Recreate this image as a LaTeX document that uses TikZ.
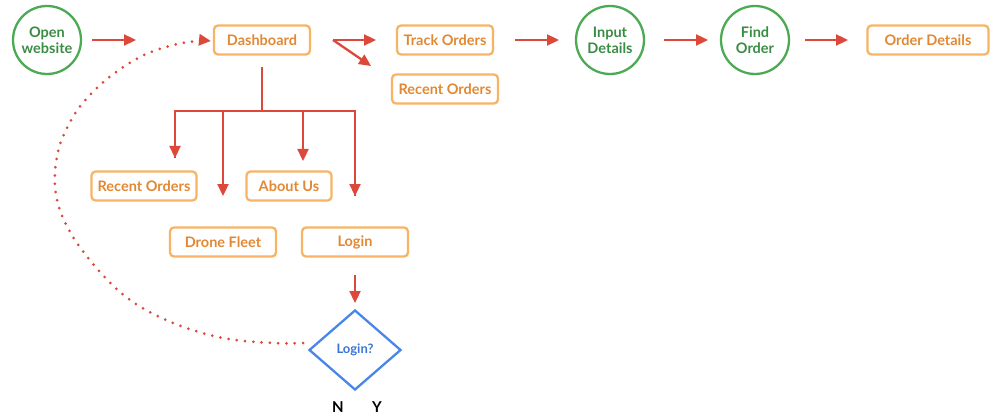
\documentclass[tikz,border=0pt]{standalone}
\usepackage{fontspec}
\setmainfont{Lato}
\usetikzlibrary{arrows.meta,shapes.geometric}
\definecolor{cgreen}{RGB}{76,170,84}
\definecolor{tgreen}{RGB}{58,140,68}
\definecolor{corange}{RGB}{246,180,100}
\definecolor{torange}{RGB}{226,136,50}
\definecolor{cred}{RGB}{220,72,58}
\definecolor{cblue}{RGB}{74,134,232}
\definecolor{tblue}{RGB}{58,116,214}
\tikzset{
  circ/.style={circle,draw=cgreen,line width=2.3pt,minimum size=68pt,inner sep=0pt,align=center,text=tgreen,font=\fontsize{14.5}{16}\selectfont\bfseries},
  box/.style={rectangle,rounded corners=4pt,draw=corange,line width=2.3pt,minimum height=29pt,inner sep=0pt,text=torange,font=\fontsize{14.5}{16}\selectfont\bfseries},
  arr/.style={draw=cred,line width=2.3pt,-{Triangle[length=12pt,width=11pt]}},
  ln/.style={draw=cred,line width=2.3pt},
  dotline/.style={draw=cred,line width=3pt,line cap=round,dash pattern=on 0pt off 8.3pt,-{Triangle[length=12pt,width=11pt]}},
  dia/.style={diamond,draw=cblue,line width=2.3pt,minimum width=92pt,minimum height=80pt,inner sep=0pt,text=tblue,font=\fontsize{13}{15}\selectfont\bfseries},
  yn/.style={text=black,font=\fontsize{15}{17}\selectfont\bfseries}
}
\begin{document}
\begin{tikzpicture}[x=1pt,y=-1pt]
\useasboundingbox (0,0) rectangle (993,417);
% nodes
\node[circ] (open) at (47,40) {Open\\website};
\node[box,minimum width=96pt] (dash) at (262,40) {Dashboard};
\node[box,minimum width=96pt] (track) at (445,40) {Track Orders};
\node[box,minimum width=106pt] (recent1) at (445,89) {Recent Orders};
\node[circ] (input) at (610,40) {Input\\Details};
\node[circ] (find) at (755,40) {Find\\Order};
\node[box,minimum width=121pt] (odet) at (928,40) {Order Details};
\node[box,minimum width=105pt] (recent2) at (144,186) {Recent Orders};
\node[box,minimum width=85pt] (about) at (289,186) {About Us};
\node[box,minimum width=106pt] (drone) at (223,242) {Drone Fleet};
\node[box,minimum width=106pt] (login) at (355,242) {Login};
\node[dia] (q) at (355,350) {Login?};
\node[yn] (n) at (338,407) {N};
\node[yn] (y) at (377,407) {Y};
% coordinates for free arrow ends
\coordinate (a1s) at (92,40);   \coordinate (a1e) at (136,40);
\coordinate (a2s) at (333,40);  \coordinate (a2e) at (376,40);
\coordinate (a3e) at (371,66);
\coordinate (a4s) at (515,40);  \coordinate (a4e) at (559,40);
\coordinate (a5s) at (664,40);  \coordinate (a5e) at (708,40);
\coordinate (a6s) at (805,40);  \coordinate (a6e) at (848,40);
\coordinate (t0) at (262,67);   \coordinate (t1) at (262,111);
\coordinate (hl) at (175,111);  \coordinate (hr) at (355,111);
\coordinate (d1) at (175,158);
\coordinate (h2) at (223,111);  \coordinate (d2) at (223,196);
\coordinate (h3) at (303,111);  \coordinate (d3) at (303,161);
\coordinate (d4) at (355,196);
\coordinate (l0) at (355,275);  \coordinate (l1) at (355,303);
\coordinate (ds) at (303,343);  \coordinate (de) at (211,41);
% connectors
\draw[arr] (a1s) -- (a1e);
\draw[arr] (a2s) -- (a2e);
\draw[arr] (a2s) -- (a3e);
\draw[arr] (a4s) -- (a4e);
\draw[arr] (a5s) -- (a5e);
\draw[arr] (a6s) -- (a6e);
\draw[ln] (t0) -- (t1);
\draw[ln,line join=miter] (d1) -- (hl) -- (hr) -- (d4);
\draw[arr] (hl) -- (d1);
\draw[arr] (h2) -- (d2);
\draw[arr] (h3) -- (d3);
\draw[arr] (hr) -- (d4);
\draw[arr] (l0) -- (l1);
\draw[dotline] plot[smooth,tension=0.6] coordinates {(ds) (273,343) (223,338) (173,323) (130,300) (100,272) (77,243) (63,218) (56,195) (55,172) (59,148) (68,126) (82,104) (107,79) (140,57) (173,45) (198,41) (de)};
\end{tikzpicture}
\end{document}
